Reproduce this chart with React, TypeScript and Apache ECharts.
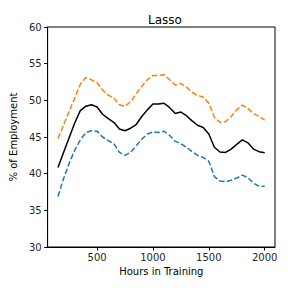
import React, { useEffect, useRef } from "react";
import * as echarts from "echarts";

const hours = [
  150, 200, 250, 300, 350, 400, 450, 500, 550, 600, 650, 700, 750, 800, 850, 900, 950, 1000, 1050,
  1100, 1150, 1200, 1250, 1300, 1350, 1400, 1450, 1500, 1550, 1600, 1650, 1700, 1750, 1800, 1850,
  1900, 1950, 2000,
];
const meanLine = [
  40.85, 42.9, 44.9, 46.9, 48.6, 49.2, 49.4, 49.1, 48.1, 47.5, 47.0, 46.1, 45.85, 46.2, 46.7, 47.8,
  48.7, 49.5, 49.5, 49.6, 49.0, 48.2, 48.4, 47.9, 47.2, 46.6, 46.3, 45.4, 43.6, 42.95, 42.9, 43.35,
  44.0, 44.6, 44.2, 43.35, 43.0, 42.85,
];
const upperLine = [
  44.8, 46.6, 48.5, 50.3, 52.2, 53.1, 52.8, 52.4, 51.4, 50.7, 50.3, 49.4, 49.2, 49.8, 50.9, 51.9,
  52.8, 53.4, 53.4, 53.5, 52.8, 52.1, 52.3, 51.8, 51.1, 50.65, 50.45, 49.6, 47.7, 47.0, 47.1, 47.8,
  48.7, 49.35, 48.9, 48.2, 47.8, 47.3,
];
const lowerLine = [
  36.9, 39.3, 41.4, 43.2, 44.6, 45.6, 45.85, 45.8, 45.0, 44.5, 44.1, 42.9, 42.5, 42.9, 43.8, 44.7,
  45.4, 45.7, 45.6, 45.8, 45.2, 44.4, 44.1, 43.6, 43.0, 42.5, 42.2, 41.7, 39.6, 39.0, 38.9, 39.1,
  39.4, 39.8, 39.45, 38.7, 38.3, 38.3,
];
const xTicks = [500, 1000, 1500, 2000];

const FONT = "DejaVu Sans";
const TEXT = "#262626";

export default function App() {
  const ref = useRef<HTMLDivElement>(null);
  useEffect(() => {
    if (!ref.current) return;
    const chart = echarts.init(ref.current, undefined, { renderer: "svg" });
    const pair = (ys: number[]) => hours.map((h, i) => [h, ys[i]]);
    chart.setOption({
      animation: false,
      backgroundColor: "#ffffff",
      title: {
        text: "Lasso",
        left: 160,
        top: 9,
        textAlign: "center",
        textStyle: { fontFamily: FONT, fontSize: 12, fontWeight: "normal", color: "#000" },
      },
      grid: {
        left: 45,
        right: 13,
        top: 27,
        bottom: 41,
        show: true,
        borderColor: "#000",
        borderWidth: 1,
        backgroundColor: "transparent",
      },
      xAxis: {
        type: "value",
        min: 57.5,
        max: 2092.5,
        name: "Hours in Training",
        nameLocation: "middle",
        nameGap: 19,
        nameTextStyle: { fontFamily: FONT, fontSize: 10, color: "#000" },
        axisLine: { show: true, lineStyle: { color: "#000", width: 1 } },
        axisTick: { show: true, inside: false, length: 3.5, customValues: xTicks, lineStyle: { color: "#000" } },
        axisLabel: {
          customValues: xTicks,
          formatter: (v: number) => String(v),
          margin: 5,
          fontFamily: FONT,
          fontSize: 10,
          color: TEXT,
        },
        splitLine: { show: false },
      },
      yAxis: {
        type: "value",
        min: 30,
        max: 60,
        interval: 5,
        name: "% of Employment",
        nameLocation: "middle",
        nameGap: 25,
        nameTextStyle: { fontFamily: FONT, fontSize: 10, color: "#000" },
        axisLine: { show: true, lineStyle: { color: "#000", width: 1 } },
        axisTick: { show: true, inside: false, length: 3.5, lineStyle: { color: "#000" } },
        axisLabel: { margin: 6, fontFamily: FONT, fontSize: 10, color: TEXT },
        splitLine: { show: false },
      },
      series: [
        {
          type: "line",
          data: pair(meanLine),
          showSymbol: false,
          lineStyle: { color: "#000000", width: 1.5 },
        },
        {
          type: "line",
          data: pair(upperLine),
          showSymbol: false,
          lineStyle: { color: "#ff7f0e", width: 1.5, type: [5.5, 2.4] },
        },
        {
          type: "line",
          data: pair(lowerLine),
          showSymbol: false,
          lineStyle: { color: "#1f77b4", width: 1.5, type: [5.5, 2.4] },
        },
      ],
    });
    return () => chart.dispose();
  }, []);
  return <div ref={ref} style={{ width: 288, height: 288, position: "absolute", left: 0, top: 0 }} />;
}
